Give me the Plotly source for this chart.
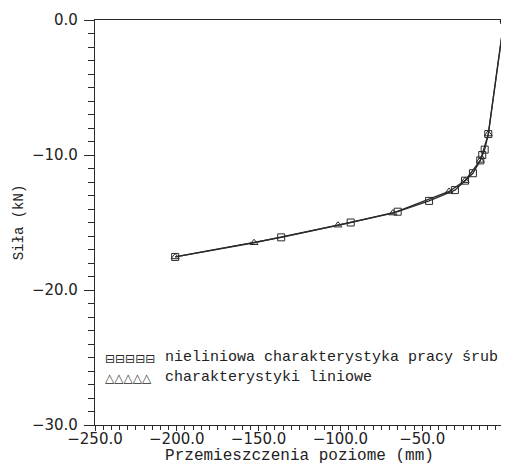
import plotly.graph_objects as go

# Data
sq_x = [0.0, -9.6, -11.8, -13.3, -14.5, -19.0, -23.8, -30.0, -45.8, -65.0, -93.7, -136.2, -201.0]
sq_y = [0.0, -8.45, -9.6, -10.0, -10.4, -11.35, -11.9, -12.6, -13.4, -14.2, -15.0, -16.1, -17.55]
tr_x = [0.0, -9.6, -14.5, -23.8, -33.6, -67.9, -101.5, -152.8, -201.0]
tr_y = [0.0, -8.45, -10.4, -11.9, -12.7, -14.3, -15.2, -16.5, -17.55]

name_sq = "nieliniowa charakterystyka pracy śrub"
name_tr = "charakterystyki liniowe"
sample_sq = "⊟⊟⊟⊟⊟"
sample_tr = "△△△△△"
x_title = "Przemieszczenia poziome (mm)"
y_title = "Siła (kN)"
x_ticks = [-250, -200, -150, -100, -50, 0]
y_ticks = [-30, -20, -10, 0]

ink = "#2a2a2a"
txt = "#222222"

fig = go.Figure()
fig.add_trace(go.Scatter(
    x=sq_x, y=sq_y, name=name_sq, mode="lines+markers", showlegend=False,
    line=dict(color=ink, width=1.3),
    marker=dict(symbol="square-open", size=7, color=ink, line=dict(width=1)),
))
fig.add_trace(go.Scatter(
    x=tr_x, y=tr_y, name=name_tr, mode="lines+markers", showlegend=False,
    line=dict(color=ink, width=1.3),
    marker=dict(symbol="triangle-up-open", size=7, color=ink, line=dict(width=1)),
))

fig.update_xaxes(
    range=[-250, 0], tickvals=x_ticks, tickformat=".1f",
    showgrid=False, zeroline=False, showline=True, linecolor=ink, linewidth=1.3,
    mirror=True, ticks="outside", tickcolor=ink, ticklen=5, tickwidth=1,
    ticklabelstandoff=-5,
    tickfont=dict(family="DejaVu Sans", size=15, color=txt),
    minor=dict(dtick=5, ticks="outside", ticklen=4, tickcolor=ink, tickwidth=1),
    title=dict(text=x_title, font=dict(family="Liberation Mono", size=16, color=txt), standoff=4),
    automargin=False,
)
fig.update_yaxes(
    range=[-30, 0], tickvals=y_ticks, tickformat=".1f",
    showgrid=False, zeroline=False, showline=True, linecolor=ink, linewidth=1.3,
    mirror=True, ticks="outside", tickcolor=ink, ticklen=10, tickwidth=1,
    ticklabelstandoff=3,
    tickfont=dict(family="DejaVu Sans", size=15, color=txt),
    minor=dict(dtick=1, ticks="outside", ticklen=6, tickcolor=ink, tickwidth=1),
    title=dict(text=y_title, font=dict(family="Liberation Mono", size=14, color=txt), standoff=4),
    automargin=False,
)

# legend drawn as text annotations (paper coordinates)
leg_font = dict(family="Liberation Mono", size=15, color=txt)
sym_font = dict(family="DejaVu Sans", size=12, color=ink)
fig.add_annotation(x=0.166, y=0.141, xref="paper", yref="paper",
                   text=name_sq + "<br>" + name_tr, align="left",
                   showarrow=False, xanchor="left", yanchor="middle", font=leg_font)
fig.add_annotation(x=0.02, y=0.163, xref="paper", yref="paper", text=sample_sq,
                   showarrow=False, xanchor="left", yanchor="middle", font=sym_font)
fig.add_annotation(x=0.02, y=0.115, xref="paper", yref="paper", text=sample_tr,
                   showarrow=False, xanchor="left", yanchor="middle", font=sym_font)

fig.update_layout(
    width=501, height=457,
    margin=dict(l=87, r=5, t=12, b=40),
    paper_bgcolor="white", plot_bgcolor="white",
    showlegend=False,
)

fig.write_html("out.html")
